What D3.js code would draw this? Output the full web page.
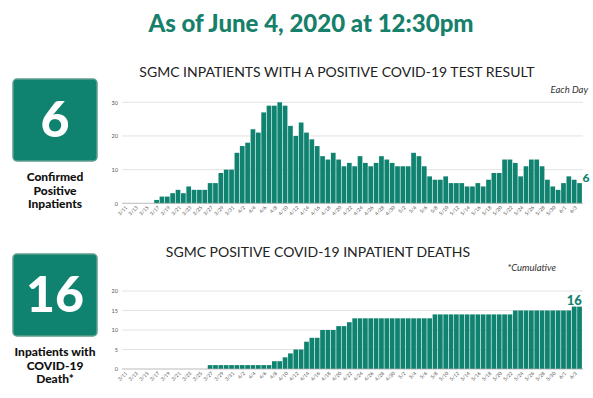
<!DOCTYPE html>
<html>
<head>
<meta charset="utf-8">
<script src="https://cdn.jsdelivr.net/npm/d3@7"></script>
<style>
  body { margin: 0; background: #fff; }
  svg { display: block; }
</style>
</head>
<body>
<div id="chart"></div>
<script>
// dates shown on both charts (3/11 .. 6/4)
var dates = ["3/11","3/12","3/13","3/14","3/15","3/16","3/17","3/18","3/19","3/20",
  "3/21","3/22","3/23","3/24","3/25","3/26","3/27","3/28","3/29","3/30","3/31",
  "4/1","4/2","4/3","4/4","4/5","4/6","4/7","4/8","4/9","4/10","4/11","4/12","4/13",
  "4/14","4/15","4/16","4/17","4/18","4/19","4/20","4/21","4/22","4/23","4/24","4/25",
  "4/26","4/27","4/28","4/29","4/30","5/1","5/2","5/3","5/4","5/5","5/6","5/7","5/8",
  "5/9","5/10","5/11","5/12","5/13","5/14","5/15","5/16","5/17","5/18","5/19","5/20",
  "5/21","5/22","5/23","5/24","5/25","5/26","5/27","5/28","5/29","5/30","5/31","6/1",
  "6/2","6/3","6/4"];

// inpatients with a positive test, each day
var inpatients = [0,0,0,0,0,0,1,2,2,3,4,3,5,4,4,4,6,6,9,10,10,
  15,17,18,22,21,27,29,29,30,29,23,20,24,21,19,17,14,13,15,13,11,12,11,14,
  12,11,12,14,13,12,11,11,11,15,14,11,8,7,7,8,6,6,6,
  5,5,6,5,7,9,9,13,13,12,8,11,13,13,11,7,5,4,6,8,7,6];

// cumulative inpatient deaths
var deaths = [0,0,0,0,0,0,0,0,0,0,0,0,0,0,0,0,
  1,1,1,1,1,1,1,1,1,1,1,1,2,2,3,4,5,5,7,8,8,10,10,10,11,11,12,
  13,13,13,13,13,13,13,13,13,13,13,13,13,13,13,
  14,14,14,14,14,14,14,14,14,14,14,14,14,14,14,
  15,15,15,15,15,15,15,15,15,15,15,16,16];

var topTicks = [0, 10, 20, 30];
var bottomTicks = [0, 5, 10, 15, 20];

var green = "#0f8370";
var W = 593, H = 398;

var svg = d3.select("#chart").append("svg")
  .attr("width", W)
  .attr("height", H);

// headline
svg.append("text")
  .attr("x", 311).attr("y", 32)
  .attr("text-anchor", "middle")
  .style("font-family", "Lato")
  .style("font-weight", 900)
  .style("font-size", "24px")
  .style("fill", "#16806a")
  .text("As of June 4, 2020 at 12:30pm");

// left side boxes
function bigBox(y0, num, lines, ly) {
  svg.append("rect")
    .attr("x", 13).attr("y", y0)
    .attr("width", 84).attr("height", 82)
    .attr("rx", 4)
    .attr("fill", green)
    .attr("stroke", "#5f9f90")
    .attr("stroke-width", 1.5);
  svg.append("text")
    .attr("x", 55).attr("y", y0 + 58)
    .attr("text-anchor", "middle")
    .style("font-family", "Lato")
    .style("font-weight", 900)
    .style("font-size", "50px")
    .style("fill", "#fff")
    .text(num);
  lines.forEach(function (t, i) {
    svg.append("text")
      .attr("x", 55).attr("y", ly + i * 13.5)
      .attr("text-anchor", "middle")
      .style("font-family", "Lato")
      .style("font-weight", 900)
      .style("font-size", "12px")
      .style("fill", "#111")
      .text(t);
  });
}
bigBox(79, "6", ["Confirmed", "Positive", "Inpatients"], 181);
bigBox(254, "16", ["Inpatients with", "COVID-19", "Death*"], 356);

// shared x scale
var x = d3.scaleBand()
  .domain(dates)
  .range([122, 582])
  .paddingInner(0.12)
  .paddingOuter(0.02);

var tickDates = dates.filter(function (d, i) { return i % 2 === 0; });

function barChart(values, yTop, yBottom, maxV, ticks) {
  var y = d3.scaleLinear().domain([0, maxV]).range([yBottom, yTop]);

  // grid
  svg.append("g").selectAll("line")
    .data(ticks.slice(1))
    .enter().append("line")
    .attr("x1", 122).attr("x2", 583)
    .attr("y1", function (d) { return y(d); })
    .attr("y2", function (d) { return y(d); })
    .style("stroke", "#dcdcdc")
    .style("stroke-width", 0.8);

  // y axis labels
  var yAxis = svg.append("g")
    .attr("transform", "translate(120,0)")
    .call(d3.axisLeft(y).tickValues(ticks).tickSize(0).tickPadding(2));
  yAxis.select(".domain").remove();
  yAxis.selectAll("text")
    .style("font-family", "Lato")
    .style("font-size", "5.5px")
    .style("fill", "#555");

  // bars
  svg.append("g").selectAll("rect")
    .data(values)
    .enter().append("rect")
    .attr("x", function (d, i) { return x(dates[i]); })
    .attr("y", function (d) { return y(d); })
    .attr("width", x.bandwidth())
    .attr("height", function (d) { return yBottom - y(d); })
    .attr("fill", green);

  // baseline
  svg.append("line")
    .attr("x1", 122).attr("x2", 583)
    .attr("y1", yBottom).attr("y2", yBottom)
    .style("stroke", "#aaa")
    .style("stroke-width", 0.8);

  // x axis
  var xAxis = svg.append("g")
    .attr("transform", "translate(0," + yBottom + ")")
    .call(d3.axisBottom(x).tickValues(tickDates).tickSize(0).tickPadding(3));
  xAxis.select(".domain").remove();
  xAxis.selectAll("text")
    .style("font-family", "Lato")
    .style("font-size", "5px")
    .style("fill", "#555")
    .attr("text-anchor", "end")
    .attr("dx", "-0.2em")
    .attr("dy", "0.5em")
    .attr("transform", "rotate(-45)");

  return y;
}

// top chart
svg.append("text")
  .attr("x", 337).attr("y", 77)
  .attr("text-anchor", "middle")
  .style("font-family", "Lato")
  .style("font-size", "14px")
  .style("fill", "#222")
  .text("SGMC INPATIENTS WITH A POSITIVE COVID-19 TEST RESULT");
svg.append("text")
  .attr("x", 588).attr("y", 93)
  .attr("text-anchor", "end")
  .style("font-family", "Lato")
  .style("font-style", "italic")
  .style("font-size", "9.5px")
  .style("fill", "#333")
  .text("Each Day");

var yTop = barChart(inpatients, 102.3, 203.3, 30, topTicks);
var last = inpatients.length - 1;
svg.append("text")
  .attr("x", x(dates[last]) + x.bandwidth() + 0.5)
  .attr("y", yTop(inpatients[last]) - 1)
  .style("font-family", "Lato")
  .style("font-weight", 900)
  .style("font-size", "12px")
  .style("fill", green)
  .text(inpatients[last]);

// bottom chart
svg.append("text")
  .attr("x", 318).attr("y", 257)
  .attr("text-anchor", "middle")
  .style("font-family", "Lato")
  .style("font-size", "14px")
  .style("fill", "#222")
  .text("SGMC POSITIVE COVID-19 INPATIENT DEATHS");
svg.append("text")
  .attr("x", 556).attr("y", 271)
  .attr("text-anchor", "end")
  .style("font-family", "Lato")
  .style("font-style", "italic")
  .style("font-size", "9.5px")
  .style("fill", "#333")
  .text("*Cumulative");

var yBot = barChart(deaths, 291, 369, 20, bottomTicks);
svg.append("text")
  .attr("x", x(dates[last]) + x.bandwidth())
  .attr("y", yBot(deaths[last]) - 2)
  .attr("text-anchor", "end")
  .style("font-family", "Lato")
  .style("font-weight", 900)
  .style("font-size", "13px")
  .style("fill", green)
  .text(deaths[last]);
</script>
</body>
</html>
